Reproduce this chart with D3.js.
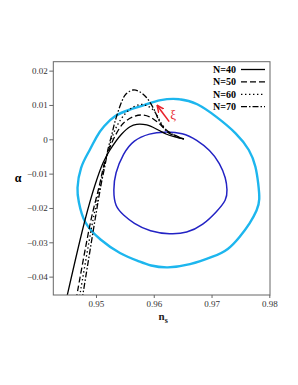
<!DOCTYPE html>
<html><head><meta charset="utf-8">
<script src="https://cdn.jsdelivr.net/npm/d3@7"></script>
<style>body{margin:0;background:#fff}svg{display:block}</style>
</head><body>
<script>
const xTicks = [0.95, 0.96, 0.97, 0.98];
const yTicks = [0.02, 0.01, 0, -0.01, -0.02, -0.03, -0.04];
const xDomain = [0.94261, 0.98012];
const yDomain = [-0.04535, 0.0226];

// 2-sigma (outer) contour
const outerNs = [0.96108,0.96454,0.96743,0.97089,0.97436,0.97666,0.97770,0.97809,0.97839,0.97792,0.97666,0.97493,0.97290,0.97030,0.96627,0.96224,0.95935,0.95762,0.95415,0.95069,0.94780,0.94694,0.94666,0.94723,0.94896,0.95012,0.95126,0.95329,0.95559,0.95848];
const outerAlpha = [0.01165,0.01194,0.01066,0.00658,0.00175,-0.00312,-0.00798,-0.01282,-0.01768,-0.02059,-0.02447,-0.02837,-0.03225,-0.03420,-0.03662,-0.03758,-0.03682,-0.03565,-0.03341,-0.02933,-0.02438,-0.01768,-0.01477,-0.00798,-0.00312,0.00096,0.00367,0.00708,0.00853,0.00999];
// 1-sigma (inner) contour
const innerNs = [0.96165,0.96511,0.96743,0.96973,0.97146,0.97250,0.97273,0.97262,0.97089,0.96857,0.96570,0.96281,0.95935,0.95646,0.95473,0.95329,0.95299,0.95329,0.95473,0.95646,0.95935];
const innerAlpha = [0.00221,0.00192,-0.0002,-0.00312,-0.00699,-0.01136,-0.01477,-0.01768,-0.02109,-0.02496,-0.02738,-0.02767,-0.02692,-0.02447,-0.02205,-0.01963,-0.01477,-0.0099,-0.00408,-0.0002,0.00175];

// model predictions
const n40Ns = [0.94484,0.94810,0.94983,0.95121,0.95242,0.95445,0.95589,0.95705,0.95878,0.96078,0.96212,0.96367,0.96523];
const n40Alpha = [-0.04681,-0.02351,-0.01331,-0.00690,-0.00312,0.00154,0.00367,0.00437,0.00417,0.00271,0.00154,0.00067,0.00009];
const n50Ns = [0.94654,0.94913,0.95061,0.95147,0.95225,0.95312,0.95473,0.95646,0.95791,0.95935,0.96073,0.96194,0.96316,0.96523];
const n50Alpha = [-0.04681,-0.02351,-0.01331,-0.0069,-0.00312,0.00038,0.00466,0.00658,0.00708,0.0065,0.00489,0.003,0.00154,0.00009];
const n60Ns = [0.94706,0.94948,0.95078,0.95156,0.95225,0.95294,0.95381,0.95502,0.95618,0.95762,0.95866,0.95992,0.96137,0.96246,0.96385,0.96523];
const n60Alpha = [-0.04681,-0.02351,-0.01331,-0.0069,-0.00253,0.00125,0.00446,0.00737,0.00912,0.01014,0.00985,0.00854,0.00446,0.00227,0.00096,0.00009];
const n70Ns = [0.94758,0.94983,0.95087,0.95164,0.95213,0.95272,0.95329,0.95445,0.95519,0.95646,0.95762,0.95866,0.95992,0.96078,0.9616,0.96246,0.96385,0.96523];
const n70Alpha = [-0.04681,-0.02351,-0.01331,-0.0069,-0.00253,0.00125,0.00513,0.01095,0.0132,0.01436,0.01378,0.01232,0.00912,0.00591,0.00358,0.00198,0.00082,0.00009];

const seriesLabels = ["N=40","N=50","N=60","N=70"];
const arrowFrom = [0.96267, 0.00515];
const arrowTo = [0.96065, 0.00972];

const W = 298, H = 385;
const m = {l:53.3, r:270, t:61.7, b:295};
const svg = d3.select("body").append("svg").attr("width", W).attr("height", H);
const x = d3.scaleLinear().domain(xDomain).range([m.l, m.r]);
const y = d3.scaleLinear().domain(yDomain).range([m.b, m.t]);

svg.append("defs").append("clipPath").attr("id","clip")
  .append("rect").attr("x", m.l).attr("y", m.t).attr("width", m.r-m.l).attr("height", m.b-m.t);
svg.select("defs").append("marker").attr("id","arr").attr("viewBox","0 0 10 10")
  .attr("refX",8).attr("refY",5).attr("markerWidth",5).attr("markerHeight",5).attr("orient","auto")
  .append("path").attr("d","M0,1 L9,5 L0,9").attr("fill","none").attr("stroke","#e8202a").attr("stroke-width",1.8);

const serif = "'Liberation Serif','Times New Roman',serif";
const g = svg.append("g").attr("clip-path","url(#clip)");

const zip = (a,b) => a.map((v,i)=>[v,b[i]]);
const closed = d3.line().x(d=>x(d[0])).y(d=>y(d[1])).curve(d3.curveBasisClosed);
const open = d3.line().x(d=>x(d[0])).y(d=>y(d[1])).curve(d3.curveCatmullRom.alpha(0.5));

g.append("path").attr("d", closed(zip(outerNs, outerAlpha))).attr("fill","none")
  .attr("stroke","#1db6ee").attr("stroke-width",2.4);
g.append("path").attr("d", closed(zip(innerNs, innerAlpha))).attr("fill","none")
  .attr("stroke","#2323c4").attr("stroke-width",1.5);

const dashes = [null, "6,3", "1.4,2.6", "6,2,1.5,2"];
const series = [zip(n40Ns,n40Alpha), zip(n50Ns,n50Alpha), zip(n60Ns,n60Alpha), zip(n70Ns,n70Alpha)];
series.forEach((s,i)=>{
  g.append("path").attr("d", open(s)).attr("fill","none").attr("stroke","#000")
    .attr("stroke-width",1.3).attr("stroke-dasharray", dashes[i]);
});

// red arrow + xi
svg.append("line").attr("x1",x(arrowFrom[0])).attr("y1",y(arrowFrom[1]))
  .attr("x2",x(arrowTo[0])).attr("y2",y(arrowTo[1]))
  .attr("stroke","#e8202a").attr("stroke-width",1.6).attr("marker-end","url(#arr)");
svg.append("text").attr("x", x(arrowFrom[0])+1).attr("y", y(arrowFrom[1])-3)
  .attr("font-family",serif).attr("font-size",13).attr("fill","#e8202a").text("ξ");

// frame
svg.append("rect").attr("x",m.l).attr("y",m.t).attr("width",m.r-m.l).attr("height",m.b-m.t)
  .attr("fill","none").attr("stroke","#666").attr("stroke-width",1);

// axes
const xa = svg.append("g").attr("transform",`translate(0,${m.b})`)
  .call(d3.axisBottom(x).tickValues(xTicks).tickSize(3).tickFormat(d3.format(".2f")));
const ya = svg.append("g").attr("transform",`translate(${m.l},0)`)
  .call(d3.axisLeft(y).tickValues(yTicks).tickSize(4).tickFormat(d=> d===0 ? "0" : (d<0?"−":"")+Math.abs(d).toFixed(2)));
[xa,ya].forEach(a=>{
  a.select(".domain").remove();
  a.selectAll("line").attr("stroke","#666");
  a.selectAll("text").attr("font-family",serif).attr("font-size",9).attr("fill","#333");
});
xa.selectAll("text").attr("dy","0.95em").attr("y",3.5);
ya.selectAll("text").attr("x",-5.5);

// axis labels
svg.append("text").attr("x",18).attr("y",182).attr("text-anchor","middle")
  .attr("font-family",serif).attr("font-size",12).attr("font-weight","bold").text("α");
const nl = svg.append("text").attr("x",158.5).attr("y",319.5).attr("font-family",serif)
  .attr("font-size",11).attr("font-weight","bold").attr("fill","#222");
nl.append("tspan").text("n");
nl.append("tspan").attr("dy",3).attr("font-size",8).text("s");

// legend
seriesLabels.forEach((lab,i)=>{
  const yy = 69.5 + i*12.4;
  svg.append("text").attr("x",236).attr("y",yy+3.5).attr("text-anchor","end")
    .attr("font-family",serif).attr("font-size",10).attr("font-weight","bold").text(lab);
  svg.append("line").attr("x1",241).attr("x2",265).attr("y1",yy).attr("y2",yy)
    .attr("stroke","#000").attr("stroke-width",1.3).attr("stroke-dasharray",dashes[i]);
});
</script>
</body></html>
